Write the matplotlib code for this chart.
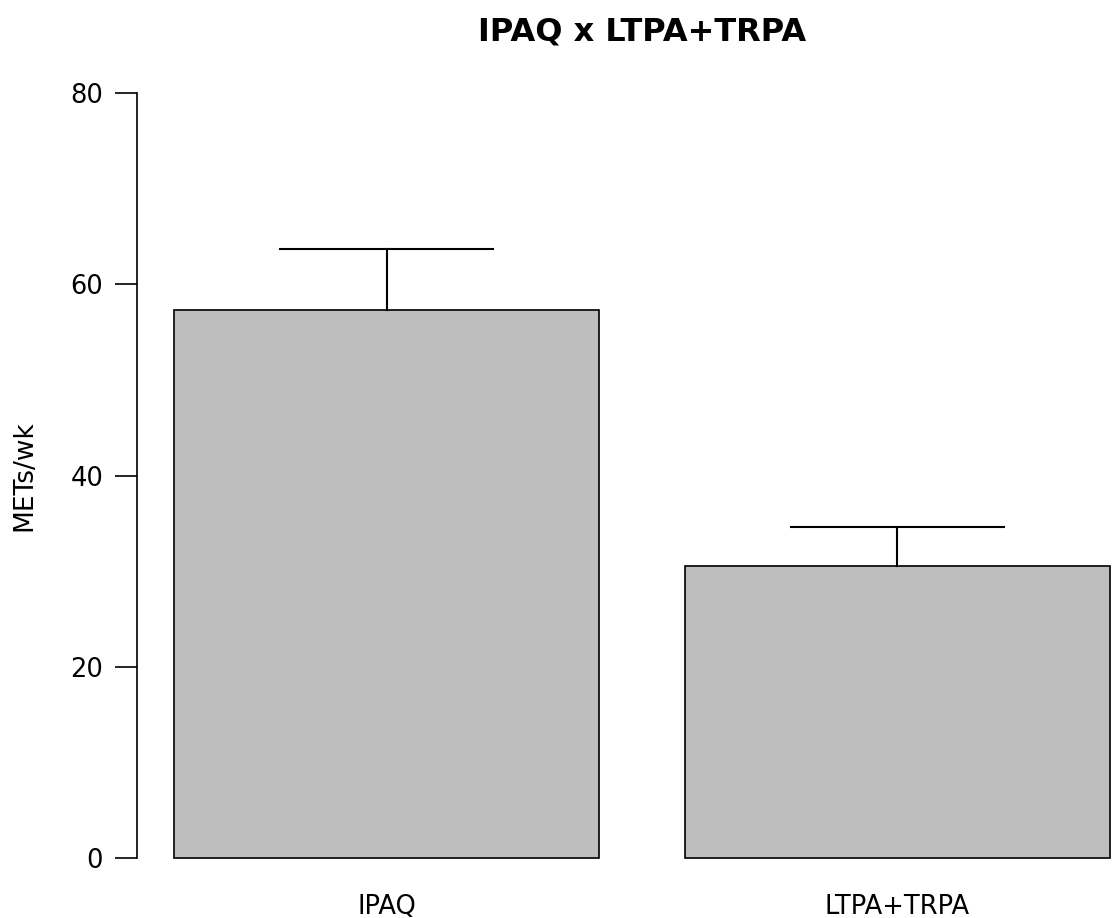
import matplotlib.pyplot as plt
import numpy as np

groups = ["IPAQ", "LTPA+TRPA"]
means = [57.3, 30.5]
upper = [63.7, 34.6]
y_ticks = [0, 20, 40, 60, 80]

W, H = 1113, 918
fig = plt.figure(figsize=(W / 100, H / 100), dpi=100)

# R barplot layout: width 1, space 0.2, xlim 0.2..2.4 with 4% padding
xl = (0.112, 2.488)
yl = (-3.2, 83.2)
left, right = 136.5, 1147.5
top, bottom = 62.4, 888.6
ax = fig.add_axes([left / W, 1 - bottom / H, (right - left) / W, (bottom - top) / H])

pos = 0.2 + np.arange(len(groups)) * 1.2 + 0.5
ax.bar(pos, means, width=1.0, color="#bebebe", edgecolor="black", linewidth=1.2)

for x, m, u in zip(pos, means, upper):
    ax.plot([x, x], [m, u], color="black", lw=1.5)
    ax.plot([x - 0.25, x + 0.25], [u, u], color="black", lw=1.5)

ax.set_xlim(xl)
ax.set_ylim(yl)

for sp in ["top", "right", "bottom"]:
    ax.spines[sp].set_visible(False)
ax.spines["left"].set_bounds(0, 80)
ax.spines["left"].set_linewidth(1.2)

ax.set_yticks(y_ticks)
ax.tick_params(axis="y", labelsize=18.5, length=16, width=1.2, pad=8)
ax.set_xticks(pos)
ax.set_xticklabels(groups)
ax.tick_params(axis="x", length=0, labelsize=18.5, pad=4)

ax.set_ylabel("METs/wk", fontsize=19, labelpad=24)
ax.set_title("IPAQ x LTPA+TRPA", fontsize=23, fontweight="bold", pad=16)

fig.savefig("out.png", dpi=100)
